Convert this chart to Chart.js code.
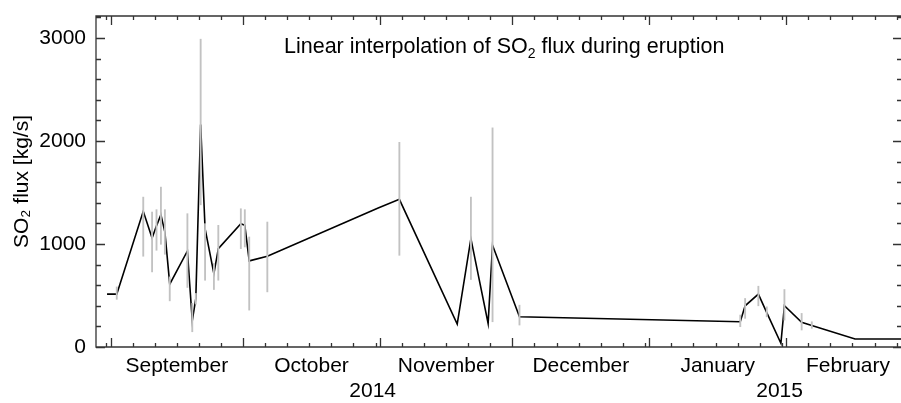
<!DOCTYPE html>
<html>
<head>
<meta charset="utf-8">
<script src="https://cdn.jsdelivr.net/npm/chart.js@4.4.1/dist/chart.umd.min.js"></script>
<style>
body{margin:0;background:#fff}
#wrap{width:901px;height:403px}
</style>
</head>
<body>
<div id="wrap"><canvas id="c" width="901" height="403"></canvas></div>
<script>
// sample times in days after 1 Sep 2014
const days=[-0.8,1.4,7.4,9.4,10.4,11.4,12.3,13.4,17.4,18.5,19.3,20.4,21.4,23.4,24.4,29.5,30.4,31.4,35.5,60.6,65.4,78.5,81.6,85.5,86.5,92.6,142.6,143.7,146.7,148.6,151.8,152.6,156.5,158.8,168.6,179.5]
const flux=[513,513,1317,1058,1176,1285,1116,610,932,255,470,2159,1149,713,955,1197,1181,836,881,1350,1433,223,1052,229,987,293,245,400,513,334,36,400,239,209,77,77]
const errLow=[null,463,881,729,939,997,900,448,578,148,416,1380,648,558,648,955,971,358,535,null,890,null,655,null,245,213,197,278,400,293,null,261,165,181,null,null]
const errHigh=[null,583,1455,1310,1333,1552,1333,681,1294,423,520,2988,1197,810,1181,1342,1333,1068,1213,null,1987,null,1455,null,2127,406,310,471,590,390,null,558,326,245,null,null]
const months=['September','October','November','December','January','February']
const monthStart=[-31,0,30,61,91,122,153,181] // Aug 1 .. Mar 1
const years=['2014','2015']
const yearSpan=[[-3.3,122],[122,181]]
const yTicks=[0,1000,2000,3000]

const xMin=-3.3, xMax=179.0
const font={family:'"Liberation Sans", Arial, sans-serif',size:21}

let pts=[]
let bars=[]
for (let i=0;i<days.length;i++){
    pts.push({x:days[i],y:flux[i]})
    if (errLow[i]!=null) bars.push({x:days[i],y:[errLow[i],errHigh[i]]})
}

function noPad(s){
    s.paddingTop=0;s.paddingBottom=0;s.paddingLeft=0;s.paddingRight=0
}

// box with inward ticks + the title inside the plot
const frame={
    id:'frame',
    afterDraw(chart){
        const {ctx,chartArea:a,scales}=chart
        const x=scales.x, y=scales.y
        ctx.save()
        ctx.strokeStyle='#333'
        ctx.lineWidth=1.3
        ctx.beginPath()
        ctx.moveTo(a.right,a.top);ctx.lineTo(a.left,a.top);ctx.lineTo(a.left,a.bottom);ctx.lineTo(a.right,a.bottom)
        for (let m=0;m<monthStart.length-1;m++){
            for (let d=0;monthStart[m]+d<monthStart[m+1];d+=5){
                const px=Math.round(x.getPixelForValue(monthStart[m]+d))+0.5
                if (px<a.left || px>a.right) continue
                const len=d==0?9:4
                ctx.moveTo(px,a.bottom);ctx.lineTo(px,a.bottom-len)
                ctx.moveTo(px,a.top);ctx.lineTo(px,a.top+len)
            }
        }
        for (let v=0;v<=3200;v+=200){
            const py=Math.round(y.getPixelForValue(v))+0.5
            const len=v%1000==0?9:5
            ctx.moveTo(a.left,py);ctx.lineTo(a.left+len,py)
            ctx.moveTo(a.right+1,py);ctx.lineTo(a.right+1-len,py)
        }
        ctx.stroke()

        ctx.fillStyle='#000'
        ctx.textBaseline='alphabetic'
        let tx=a.left+188, ty=a.top+37
        ctx.font='21.5px "Liberation Sans", Arial, sans-serif'
        ctx.fillText('Linear interpolation of SO',tx,ty)
        tx+=ctx.measureText('Linear interpolation of SO').width
        ctx.font='14px "Liberation Sans", Arial, sans-serif'
        ctx.fillText('2',tx,ty+5)
        tx+=ctx.measureText('2').width
        ctx.font='21.5px "Liberation Sans", Arial, sans-serif'
        ctx.fillText(' flux during eruption',tx,ty)
        ctx.restore()
    }
}

new Chart(document.getElementById('c'),{
    type:'line',
    data:{
        datasets:[
            {type:'bar',data:bars,backgroundColor:'#c2c2c2',barThickness:1.2,borderWidth:0,order:0},
            {type:'line',data:pts,borderColor:'#000',borderWidth:1.6,pointRadius:0,tension:0,fill:false,order:1}
        ]
    },
    options:{
        responsive:false,
        animation:false,
        layout:{padding:{top:16,right:0,bottom:0,left:0}},
        plugins:{legend:{display:false},tooltip:{enabled:false}},
        scales:{
            x:{
                type:'linear',min:xMin,max:xMax,offset:false,position:'bottom',
                grid:{display:false,drawTicks:false},border:{display:false},
                afterBuildTicks:s=>{s.ticks=months.map((m,i)=>({value:(monthStart[i+1]+monthStart[i+2])/2}))},
                ticks:{autoSkip:false,maxRotation:0,padding:7,color:'#000',font:font,callback:(v,i)=>months[i]},
                afterFit:s=>{s.height=30;noPad(s)}
            },
            x2:{
                type:'linear',min:xMin,max:xMax,offset:false,position:'bottom',
                grid:{display:false,drawTicks:false},border:{display:false},
                afterBuildTicks:s=>{s.ticks=yearSpan.map(p=>({value:(p[0]+p[1])/2}))},
                ticks:{autoSkip:false,maxRotation:0,padding:2,color:'#000',font:font,callback:(v,i)=>years[i]},
                afterFit:s=>{s.height=26;noPad(s)}
            },
            y:{
                min:0,max:3213,
                grid:{display:false,drawTicks:false},border:{display:false},
                afterBuildTicks:s=>{s.ticks=yTicks.map(v=>({value:v}))},
                ticks:{padding:10,color:'#000',font:font,callback:v=>String(v)},
                title:{display:true,text:'SO₂ flux [kg/s]',color:'#000',font:font,padding:{top:10,bottom:0}},
                afterFit:s=>{s.width=96;noPad(s)}
            }
        }
    },
    plugins:[frame]
})
</script>
</body>
</html>
